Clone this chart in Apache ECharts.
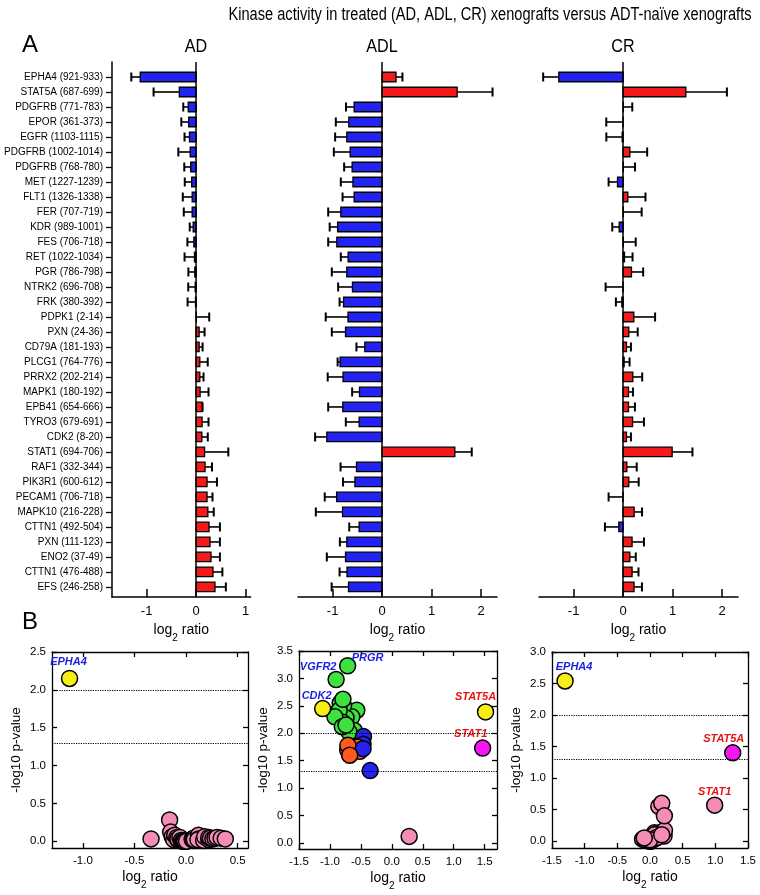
<!DOCTYPE html>
<html><head><meta charset="utf-8">
<script src="https://cdn.jsdelivr.net/npm/echarts@6/dist/echarts.min.js"></script>
<style>html,body{margin:0;padding:0;background:#fff}#c{width:760px;height:895px}</style>
</head><body><div id="c"></div>
<script>
// ---------------- DATA ----------------
const kinases = ['EPHA4 (921-933)','STAT5A (687-699)','PDGFRB (771-783)','EPOR (361-373)','EGFR (1103-1115)',
 'PDGFRB (1002-1014)','PDGFRB (768-780)','MET (1227-1239)','FLT1 (1326-1338)','FER (707-719)','KDR (989-1001)',
 'FES (706-718)','RET (1022-1034)','PGR (786-798)','NTRK2 (696-708)','FRK (380-392)','PDPK1 (2-14)','PXN (24-36)',
 'CD79A (181-193)','PLCG1 (764-776)','PRRX2 (202-214)','MAPK1 (180-192)','EPB41 (654-666)','TYRO3 (679-691)',
 'CDK2 (8-20)','STAT1 (694-706)','RAF1 (332-344)','PIK3R1 (600-612)','PECAM1 (706-718)','MAPK10 (216-228)',
 'CTTN1 (492-504)','PXN (111-123)','ENO2 (37-49)','CTTN1 (476-488)','EFS (246-258)'];

const adLog2 = [-1.13,-0.34,-0.16,-0.15,-0.135,-0.12,-0.11,-0.09,-0.08,-0.08,-0.06,-0.047,-0.034,-0.027,-0.02,-0.013,
 0.004,0.06,0.06,0.074,0.074,0.08,0.12,0.12,0.115,0.17,0.18,0.22,0.22,0.236,0.26,0.28,0.30,0.34,0.38];
const adErr = [0.18,0.52,0.10,0.15,0.10,0.24,0.13,0.14,0.19,0.17,0.07,0.13,0.20,0.13,0.14,0.16,
 0.26,0.11,0.07,0.16,0.075,0.17,0.01,0.13,0.12,0.48,0.14,0.20,0.11,0.12,0.22,0.20,0.18,0.19,0.22];

const adlLog2 = [0.28,1.515,-0.566,-0.673,-0.714,-0.646,-0.606,-0.59,-0.566,-0.835,-0.90,-0.916,-0.687,-0.714,-0.60,-0.78,
 -0.69,-0.74,-0.35,-0.85,-0.79,-0.458,-0.795,-0.465,-1.118,1.468,-0.518,-0.55,-0.92,-0.80,-0.465,-0.714,-0.74,-0.71,-0.68];
const adlErr = [0.13,0.715,0.164,0.263,0.236,0.33,0.162,0.245,0.234,0.255,0.16,0.174,0.148,0.303,0.289,0.08,
 0.45,0.277,0.17,0.05,0.31,0.148,0.295,0.269,0.236,0.342,0.322,0.24,0.24,0.54,0.20,0.14,0.378,0.15,0.34];

const crLog2 = [-1.30,1.266,0.004,-0.004,-0.02,0.135,0.004,-0.114,0.094,0.004,-0.08,0.004,0.027,0.168,-0.004,-0.027,
 0.215,0.114,0.067,0.02,0.195,0.108,0.108,0.19,0.067,0.99,0.074,0.114,-0.004,0.222,-0.088,0.18,0.135,0.18,0.22];
const crErr = [0.316,0.83,0.18,0.337,0.32,0.35,0.236,0.18,0.357,0.37,0.14,0.25,0.163,0.236,0.35,0.12,
 0.43,0.18,0.09,0.11,0.19,0.09,0.13,0.23,0.09,0.41,0.2,0.2,0.29,0.16,0.28,0.24,0.12,0.13,0.16];

// -log10 p-values (panel B)
const adNegLogP = [2.15,0.03,0.28,0.12,0.06,0.02,0.08,0.05,0.02,0.03,0.05,0.01,0.0,0.0,0.0,0.0,
 0.0,0.02,0.03,0.01,0.04,0.02,0.08,0.03,0.02,0.01,0.06,0.02,0.05,0.04,0.03,0.04,0.05,0.04,0.03];
const adlNegLogP = [0.12,2.39,2.42,2.25,2.08,2.30,2.05,1.78,1.72,2.55,2.98,2.35,1.62,3.23,1.85,2.50,
 2.02,2.28,1.32,2.42,2.62,1.94,2.20,1.80,2.45,1.73,1.67,1.75,2.30,2.12,1.72,1.70,2.15,1.78,1.60];
const crNegLogP = [2.54,1.40,0.0,0.01,0.03,0.12,0.01,0.03,0.05,0.0,0.02,0.0,0.01,0.10,0.0,0.02,
 0.08,0.10,0.13,0.03,0.15,0.12,0.09,0.12,0.10,0.57,0.04,0.06,0.02,0.17,0.05,0.10,0.55,0.60,0.40];

// point classes (y yellow, p pink, g green, o orange, b blue, m magenta)
const adClass  = ['y','p','p','p','p','p','p','p','p','p','p','p','p','p','p','p','p','p','p','p','p','p','p','p','p','p','p','p','p','p','p','p','p','p','p'];
const adlClass = ['p','y','g','g','g','g','g','o','o','g','g','g','o','g','o','g','g','g','b','g','g','b','g','b','y','m','o','o','g','g','b','o','g','o','o'];
const crClass  = ['y','m','p','p','p','p','p','p','p','p','p','p','p','p','p','p','p','p','p','p','p','p','p','p','p','p','p','p','p','p','p','p','p','p','p'];

// annotated points
const adNoteIdx = [0];            const adNoteText = ['EPHA4'];
const adlNoteIdx = [10,13,24,1,25]; const adlNoteText = ['VGFR2','PRGR','CDK2','STAT5A','STAT1'];
const crNoteIdx = [0,1,25];       const crNoteText = ['EPHA4','STAT5A','STAT1'];

const barTicksAD = [-1,0,1];
const barTicksOther = [-1,0,1,2];
const volXTicksAD = [-1.0,-0.5,0.0,0.5];
const volXTicks = [-1.5,-1.0,-0.5,0.0,0.5,1.0,1.5];
const volYTicksAD = [0,0.5,1.0,1.5,2.0,2.5];
const volYTicksADL = [0,0.5,1.0,1.5,2.0,2.5,3.0,3.5];
const volYTicksCR = [0,0.5,1.0,1.5,2.0,2.5,3.0];
const sigLines = [2.0, 1.3];
const panelNames = ['AD','ADL','CR'];

// ---------------- STYLE ----------------
const F = '"Liberation Sans", Arial, sans-serif';
const BLUE = '#2222f2', RED = '#f41a1a';
const PT = {y:'#f7ee16', p:'#f48cb6', g:'#3ee23e', o:'#ff5a1e', b:'#2424ee', m:'#f516f0'};
const NOTE_BLUE = '#1c1ce0', NOTE_RED = '#e81414';
const noteOffsets = {
  AD: {0:[-1,-17]},
  ADL:{10:[-18,-13], 13:[20,-8], 24:[-6,-13], 1:[-10,-15], 25:[-12,-14]},
  CR: {0:[9,-14], 1:[-9,-14], 25:[0,-13]}
};
const log2Name = '{a|log}{b|2}{a| ratio}';
const log2Rich = {a:{fontSize:14, fontFamily:F, color:'#000', lineHeight:20, verticalAlign:'top'},
                  b:{fontSize:10, fontFamily:F, color:'#000', lineHeight:10, verticalAlign:'bottom'}};

const barGrids = [
  {left:112, top:62, width:138.6, height:535},
  {left:298, top:62, width:199, height:535},
  {left:539, top:62, width:199, height:535}
];
const barXRange = [[-1.7,1.1],[-1.7,2.32],[-1.7,2.32]];
const volGrids = [
  {left:52, top:652, width:196, height:196},
  {left:299, top:651, width:198, height:198},
  {left:552, top:652, width:196, height:196}
];
const volXRange = [[-1.3,0.6],[-1.5,1.7],[-1.5,1.5]];
const volYRange = [[-0.09,2.5],[-0.11,3.5],[-0.11,3.0]];

const barVals = [adLog2, adlLog2, crLog2];
const barErrs = [adErr, adlErr, crErr];
const volY = [adNegLogP, adlNegLogP, crNegLogP];
const volCls = [adClass, adlClass, crClass];
const noteIdx = [adNoteIdx, adlNoteIdx, crNoteIdx];
const noteTxt = [adNoteText, adlNoteText, crNoteText];
const volXT = [volXTicksAD, volXTicks, volXTicks];
const volYT = [volYTicksAD, volYTicksADL, volYTicksCR];

function barRender(params, api) {
  const v = api.value(0), i = api.value(1), e = api.value(2);
  const p0 = api.coord([0, i]);
  const p1 = api.coord([v, i]);
  const pe = api.coord([v + (v < 0 ? -e : e), i]);
  const h = 9.5;
  return {type:'group', children:[
    {type:'line', shape:{x1:p1[0], y1:p1[1], x2:pe[0], y2:pe[1]}, style:{stroke:'#000', lineWidth:1.6}},
    {type:'line', shape:{x1:pe[0], y1:pe[1]-4.5, x2:pe[0], y2:pe[1]+4.5}, style:{stroke:'#000', lineWidth:2}},
    {type:'rect', shape:{x:Math.min(p0[0],p1[0]), y:p0[1]-h/2, width:Math.abs(p1[0]-p0[0]), height:h},
     style:{fill: v < 0 ? BLUE : RED, stroke:'#000', lineWidth:1.3}}
  ]};
}

const grid = [], xAxis = [], yAxis = [], series = [];
const idxs = kinases.map((_, k) => k);

// Panel A
for (let p = 0; p < 3; p++) {
  grid.push(Object.assign({outerBoundsMode:'none', containLabel:false}, barGrids[p]));
  const ticks = p === 0 ? barTicksAD : barTicksOther;
  xAxis.push({type:'value', gridIndex:p, min:barXRange[p][0], max:barXRange[p][1],
    axisLine:{show:true, onZero:false, lineStyle:{color:'#000', width:1.5}},
    axisTick:{show:true, inside:true, length:8, customValues:ticks, lineStyle:{color:'#000', width:1.5}},
    axisLabel:{customValues:ticks, color:'#000', fontSize:13, fontFamily:F, margin:8},
    splitLine:{show:false},
    name:log2Name, nameLocation:'middle', nameGap:20, nameTextStyle:{rich:log2Rich}});
  yAxis.push({type:'value', gridIndex:p, inverse:true, min:-1, max:34.67, show:p === 0,
    axisLine:{show:true, onZero:false, lineStyle:{color:'#000', width:1.5}},
    axisTick:{show:true, length:6, customValues:idxs, lineStyle:{color:'#000', width:1.3}},
    axisLabel:{customValues:idxs, formatter:(v) => kinases[v], color:'#000', fontSize:10, fontFamily:F, margin:9},
    splitLine:{show:false}});
  series.push({type:'custom', xAxisIndex:p, yAxisIndex:p, renderItem:barRender, clip:false,
    encode:{x:0, y:1}, silent:true,
    data: kinases.map((_, k) => [barVals[p][k], k, barErrs[p][k]]),
    markLine:{silent:true, symbol:['none','none'], label:{show:false},
      lineStyle:{color:'#000', width:1.5, type:'solid'}, data:[{xAxis:0}]}});
}

// Panel B
const lineS = {color:'#000', width:1.3};
for (let p = 0; p < 3; p++) {
  const gi = 3 + p;
  grid.push(Object.assign({outerBoundsMode:'none', containLabel:false}, volGrids[p]));
  xAxis.push({type:'value', gridIndex:gi, min:volXRange[p][0], max:volXRange[p][1], position:'bottom',
    axisLine:{show:true, onZero:false, lineStyle:lineS},
    axisTick:{show:true, inside:true, length:5, customValues:volXT[p], lineStyle:lineS},
    axisLabel:{customValues:volXT[p], formatter:(v) => v.toFixed(1), color:'#000', fontSize:11.5, fontFamily:F, margin:7},
    splitLine:{show:false},
    name:log2Name, nameLocation:'middle', nameGap:22, nameTextStyle:{rich:log2Rich}});
  yAxis.push({type:'value', gridIndex:gi, min:volYRange[p][0], max:volYRange[p][1], position:'left',
    axisLine:{show:true, onZero:false, lineStyle:lineS},
    axisTick:{show:true, inside:true, length:5, customValues:volYT[p], lineStyle:lineS},
    axisLabel:{customValues:volYT[p], formatter:(v) => v.toFixed(1), color:'#000', fontSize:11.5, fontFamily:F, margin:6},
    splitLine:{show:false},
    name:'-log10 p-value', nameLocation:'middle', nameGap:29, nameRotate:90,
    nameTextStyle:{color:'#000', fontSize:13.5, fontFamily:F}});
}
for (let p = 0; p < 3; p++) {
  const gi = 3 + p;
  xAxis.push({type:'value', gridIndex:gi, min:volXRange[p][0], max:volXRange[p][1], position:'top',
    axisLine:{show:true, onZero:false, lineStyle:lineS},
    axisTick:{show:true, inside:true, length:5, customValues:volXT[p], lineStyle:lineS},
    axisLabel:{show:false}, splitLine:{show:false}});
  yAxis.push({type:'value', gridIndex:gi, min:volYRange[p][0], max:volYRange[p][1], position:'right',
    axisLine:{show:true, onZero:false, lineStyle:lineS},
    axisTick:{show:true, inside:true, length:5, customValues:volYT[p], lineStyle:lineS},
    axisLabel:{show:false}, splitLine:{show:false}});
}
for (let p = 0; p < 3; p++) {
  const name = panelNames[p];
  const data = kinases.map((_, k) => {
    const x = barVals[p][k], y = volY[p][k];
    const item = {value:[x, y], itemStyle:{color: PT[volCls[p][k]]}};
    const ni = noteIdx[p].indexOf(k);
    if (ni >= 0) {
      item.label = {show:true, position:'inside', formatter: noteTxt[p][ni], offset: noteOffsets[name][k],
        color: x < 0 ? NOTE_BLUE : NOTE_RED, fontSize:11, fontWeight:'bold', fontStyle:'italic', fontFamily:F};
    }
    return item;
  });
  data.sort((a, b) => (a.label ? 1 : 0) - (b.label ? 1 : 0));
  series.push({type:'scatter', xAxisIndex:3 + p, yAxisIndex:3 + p, symbolSize:16, silent:true,
    itemStyle:{borderColor:'#000', borderWidth:1.5, opacity:1},
    data,
    markLine:{silent:true, symbol:['none','none'], label:{show:false},
      lineStyle:{color:'#000', width:1.2, type:'dotted'}, data: sigLines.map(v => ({yAxis:v}))}});
}

// narrow-looking headings: regular face, horizontally condensed
const txt = (x, y, text, size, sx) => ({type:'text', x, y, scaleX:sx, scaleY:1, silent:true,
  style:{text, font: size + 'px ' + F, fill:'#000', textAlign:'center', textVerticalAlign:'middle', align:'center', verticalAlign:'middle'}});

const option = {
  animation:false,
  textStyle:{fontFamily:F},
  grid, xAxis, yAxis, series,
  graphic:[
    txt(490, 15, 'Kinase activity in treated (AD, ADL, CR) xenografts versus ADT-naïve xenografts', 17.5, 0.835),
    txt(30, 45, 'A', 24, 1),
    txt(196, 47, 'AD', 19, 0.85),
    txt(382, 47, 'ADL', 19, 0.85),
    txt(623, 47, 'CR', 19, 0.85),
    txt(30, 622, 'B', 24, 1)
  ]
};
const chart = echarts.init(document.getElementById('c'), null, {renderer:'canvas', width:760, height:895});
chart.setOption(option);
</script></body></html>
